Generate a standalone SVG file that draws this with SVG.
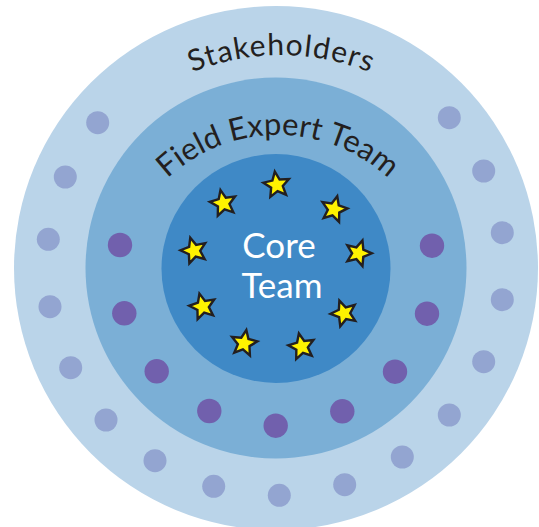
<svg xmlns="http://www.w3.org/2000/svg" width="539" height="527" viewBox="0 0 539 527">
<defs>
<style>
.ring1{fill:#bad4e9}
.ring2{fill:#7bafd6}
.ring3{fill:#3f89c6}
.dot{fill:#93a5d1}
.pdot{fill:#7160ad}
.star{fill:#fff200;stroke:#231f20;stroke-width:2.4;stroke-linejoin:miter}
.lbl{font-family:Lato,"Open Sans","Liberation Sans",sans-serif;fill:#231f20}
.core{font-family:Lato,"Open Sans","Liberation Sans",sans-serif;fill:#ffffff;font-size:35px;text-anchor:middle}
</style>
<polygon id="st" points="0,-13.5 3.64,-5.01 12.84,-4.17 5.88,1.91 7.94,10.92 0,6.19 -7.94,10.92 -5.88,1.91 -12.84,-4.17 -3.64,-5.01"/>
<path id="arcS" d="M46 290 A235 235 0 0 1 516 290"/>
<path id="arcF" d="M116 297 A162 162 0 0 1 440 297"/>
</defs>
<g id="stakeholders">
<circle class="ring1" cx="276" cy="268" r="262"/>
<g>
<circle class="dot" cx="97.7" cy="122.7" r="11.5"/>
<circle class="dot" cx="65.3" cy="177" r="11.5"/>
<circle class="dot" cx="48.3" cy="239.3" r="11.5"/>
<circle class="dot" cx="50" cy="306.7" r="11.5"/>
<circle class="dot" cx="70.7" cy="367.7" r="11.5"/>
<circle class="dot" cx="106" cy="420" r="11.5"/>
<circle class="dot" cx="155" cy="460.7" r="11.5"/>
<circle class="dot" cx="213.7" cy="486.3" r="11.5"/>
<circle class="dot" cx="279.3" cy="495.3" r="11.5"/>
<circle class="dot" cx="344.7" cy="484.7" r="11.5"/>
<circle class="dot" cx="402.3" cy="457" r="11.5"/>
<circle class="dot" cx="449.3" cy="415" r="11.5"/>
<circle class="dot" cx="483.7" cy="361.7" r="11.5"/>
<circle class="dot" cx="502.3" cy="299.7" r="11.5"/>
<circle class="dot" cx="502.3" cy="232.7" r="11.5"/>
<circle class="dot" cx="483.7" cy="171" r="11.5"/>
<circle class="dot" cx="449.3" cy="117.7" r="11.5"/>
</g>
<text class="lbl" font-size="30"><textPath href="#arcS" startOffset="50%" text-anchor="middle" textLength="182" lengthAdjust="spacing">Stakeholders</textPath></text>
</g>
<g id="field-expert-team">
<circle class="ring2" cx="276" cy="268" r="190.5"/>
<g>
<circle class="pdot" cx="120" cy="245" r="12.2"/>
<circle class="pdot" cx="124.3" cy="313.3" r="12.2"/>
<circle class="pdot" cx="156.7" cy="371.3" r="12.2"/>
<circle class="pdot" cx="209.3" cy="411" r="12.2"/>
<circle class="pdot" cx="275.7" cy="425.7" r="12.2"/>
<circle class="pdot" cx="342.3" cy="411.3" r="12.2"/>
<circle class="pdot" cx="395" cy="371.7" r="12.2"/>
<circle class="pdot" cx="427" cy="313.7" r="12.2"/>
<circle class="pdot" cx="432" cy="245.7" r="12.2"/>
</g>
<text class="lbl" font-size="31"><textPath href="#arcF" startOffset="50%" text-anchor="middle" textLength="243" lengthAdjust="spacing">Field Expert Team</textPath></text>
</g>
<g id="core-team">
<circle class="ring3" cx="276" cy="268.5" r="114.5"/>
<g>
<use href="#st" class="star" transform="translate(276.7,185) rotate(-8)"/>
<use href="#st" class="star" transform="translate(223.3,203.3) rotate(-12)"/>
<use href="#st" class="star" transform="translate(334,209.3) rotate(14)"/>
<use href="#st" class="star" transform="translate(194,250.7) rotate(-16)"/>
<use href="#st" class="star" transform="translate(358.3,253.3) rotate(18)"/>
<use href="#st" class="star" transform="translate(202.7,306.7) rotate(-14)"/>
<use href="#st" class="star" transform="translate(344,313.3) rotate(-20)"/>
<use href="#st" class="star" transform="translate(244,343.3) rotate(10)"/>
<use href="#st" class="star" transform="translate(301.7,346.7) rotate(-12)"/>
</g>
<text class="core" x="279" y="258">Core</text>
<text class="core" x="282" y="298">Team</text>
</g>
</svg>
